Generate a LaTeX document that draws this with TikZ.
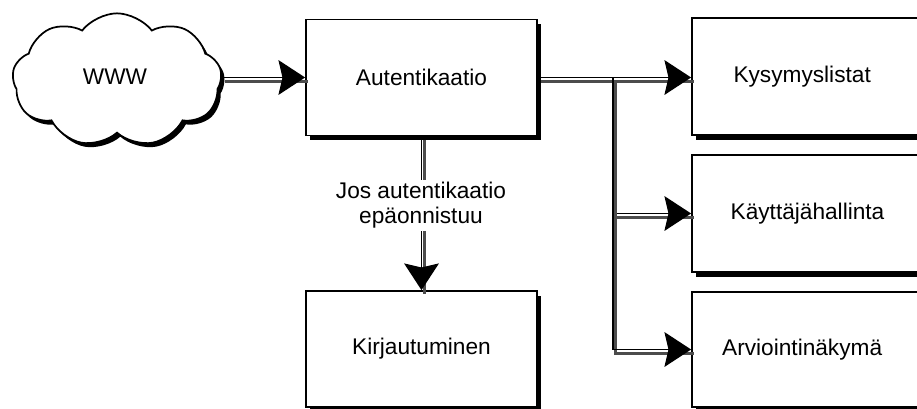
\documentclass[tikz,border=0pt]{standalone}
\usepackage{fontspec}
\setmainfont{Liberation Sans}
\usetikzlibrary{arrows.meta,shapes.symbols,shadows}
\begin{document}
\begin{tikzpicture}[x=0.75pt,y=-0.75pt,
  font=\fontsize{17}{18.75}\selectfont,
  box/.style={draw=black, line width=1.3pt, fill=white, rectangle, inner sep=0pt,
    minimum width=173.25pt, minimum height=87pt,
    drop shadow={shadow xshift=3pt, shadow yshift=-3.5pt, fill=black, opacity=1}},
  cloudbox/.style={cloud, cloud puffs=9, cloud puff arc=105, aspect=1.6,
    draw=black, line width=1.3pt, fill=white, inner sep=0pt,
    minimum width=157pt, minimum height=100pt,
    drop shadow={shadow xshift=2.5pt, shadow yshift=-3pt, fill=black, opacity=1}},
  conn/.style={line width=1.3pt, -{Stealth[length=20pt,width=26pt,inset=3pt]},
    preaction={draw=black!70, line width=2pt, -, transform canvas={shift={(2pt,-3pt)}}}},
  lbl/.style={fill=white, align=center, inner sep=2pt}]
\useasboundingbox (0,0) rectangle (917,408);
\clip (0,0) rectangle (917,408);
\node[cloudbox] (www) at (117,80) {};
\node at (115,77) {WWW};
\node[box] (aut) at (421.5,77.5) {Autentikaatio};
\node[box, minimum height=87pt] (kirj) at (421.5,349) {Kirjautuminen};
\node[box, minimum height=87.75pt] (kys) at (807.5,76.5) {\hspace*{-8pt}Kysymyslistat};
\node[box, minimum height=87.75pt] (kay) at (807.5,213.5) {Käyttäjähallinta};
\node[box, minimum height=86.25pt] (arv) at (807.5,349.5) {\hspace*{-8pt}Arviointinäkymä};
\coordinate (br) at (613,77.5);
\draw[conn] (www.east |- aut.west) -- (aut.west);
\draw[conn] (aut.east) -- (aut.east -| kys.west);
\draw[conn] (br) |- (kay.west);
\draw[conn] (br) |- (arv.west);
\draw[conn] (aut.south) -- (kirj.north);
\node[lbl] (fail) at (421,205.5) {Jos autentikaatio\\epäonnistuu};
\end{tikzpicture}
\end{document}
